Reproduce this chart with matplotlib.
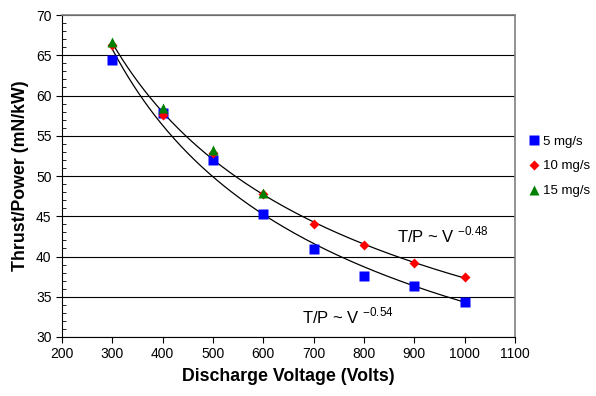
import matplotlib.pyplot as plt
import numpy as np
from matplotlib.ticker import MultipleLocator

plt.rcParams['font.family'] = ['Liberation Sans', 'DejaVu Sans']

# discharge voltage (V) and thrust/power (mN/kW) per anode flow rate
volts = [300, 400, 500, 600, 700, 800, 900, 1000]
tp_5 = [64.4, 57.8, 52.0, 45.3, 40.9, 37.6, 36.3, 34.3]
tp_10 = [66.3, 57.6, 52.9, 47.8, 44.0, 41.4, 39.2, 37.4]
volts_15 = [300, 400, 500, 600]
tp_15 = [66.7, 58.4, 53.2, 47.9]

# power-law exponents for the trend lines
exp_5 = -0.54
exp_10 = -0.48


def power_fit(v, tp, b):
    # least squares coefficient for tp = a * v**b with b fixed
    v = np.asarray(v, float)
    tp = np.asarray(tp, float)
    a = np.exp(np.mean(np.log(tp) - b * np.log(v)))
    return a


fig = plt.figure(figsize=(5.96, 3.96), dpi=100)
ax = fig.add_axes([0.104, 0.149, 0.76, 0.813])

vv = np.linspace(300, 1000, 200)
a5 = power_fit(volts, tp_5, exp_5)
a10 = power_fit(volts, tp_10, exp_10)
ax.plot(vv, a5 * vv ** exp_5, color='black', lw=0.9, zorder=2)
ax.plot(vv, a10 * vv ** exp_10, color='black', lw=0.9, zorder=2)

ax.plot(volts, tp_5, 's', color='#0000ff', ms=7, mec='none', label='5 mg/s', zorder=3)
ax.plot(volts, tp_10, 'D', color='#ff0000', ms=5.5, mec='none', label='10 mg/s', zorder=4)
ax.plot(volts_15, tp_15, '^', color='#008000', ms=7, mec='none', label='15 mg/s', zorder=5)

ax.set_xlim(200, 1100)
ax.set_ylim(30, 70)
ax.xaxis.set_major_locator(MultipleLocator(100))
ax.yaxis.set_major_locator(MultipleLocator(5))
ax.yaxis.set_minor_locator(MultipleLocator(1))
ax.grid(axis='y', which='major', color='black', lw=0.8)
ax.set_axisbelow(True)

ax.tick_params(axis='x', direction='out', length=4, labelsize=10, width=0.8)
ax.tick_params(axis='y', which='major', direction='out', length=4, labelsize=10, width=0.8)
ax.tick_params(axis='y', which='minor', direction='in', length=3, width=0.6)
for side in ['top', 'right']:
    ax.spines[side].set_color('#808080')
    ax.spines[side].set_linewidth(1.2)

ax.set_xlabel('Discharge Voltage (Volts)', fontsize=12.8, fontweight='bold', labelpad=5)
ax.set_ylabel('Thrust/Power (mN/kW)', fontsize=12.8, fontweight='bold', labelpad=5)

ax.text(865, 41.7, r'T/P ~ V $^{\mathregular{-0.48}}$', fontsize=12, va='baseline')
ax.text(677, 31.7, r'T/P ~ V $^{\mathregular{-0.54}}$', fontsize=12, va='baseline')

ax.legend(loc='center left', bbox_to_anchor=(0.995, 0.53), frameon=False, fontsize=9.5,
          handletextpad=0.1, handlelength=1.2, labelspacing=0.95, borderaxespad=0.6)

fig.savefig('out.png', dpi=100)
